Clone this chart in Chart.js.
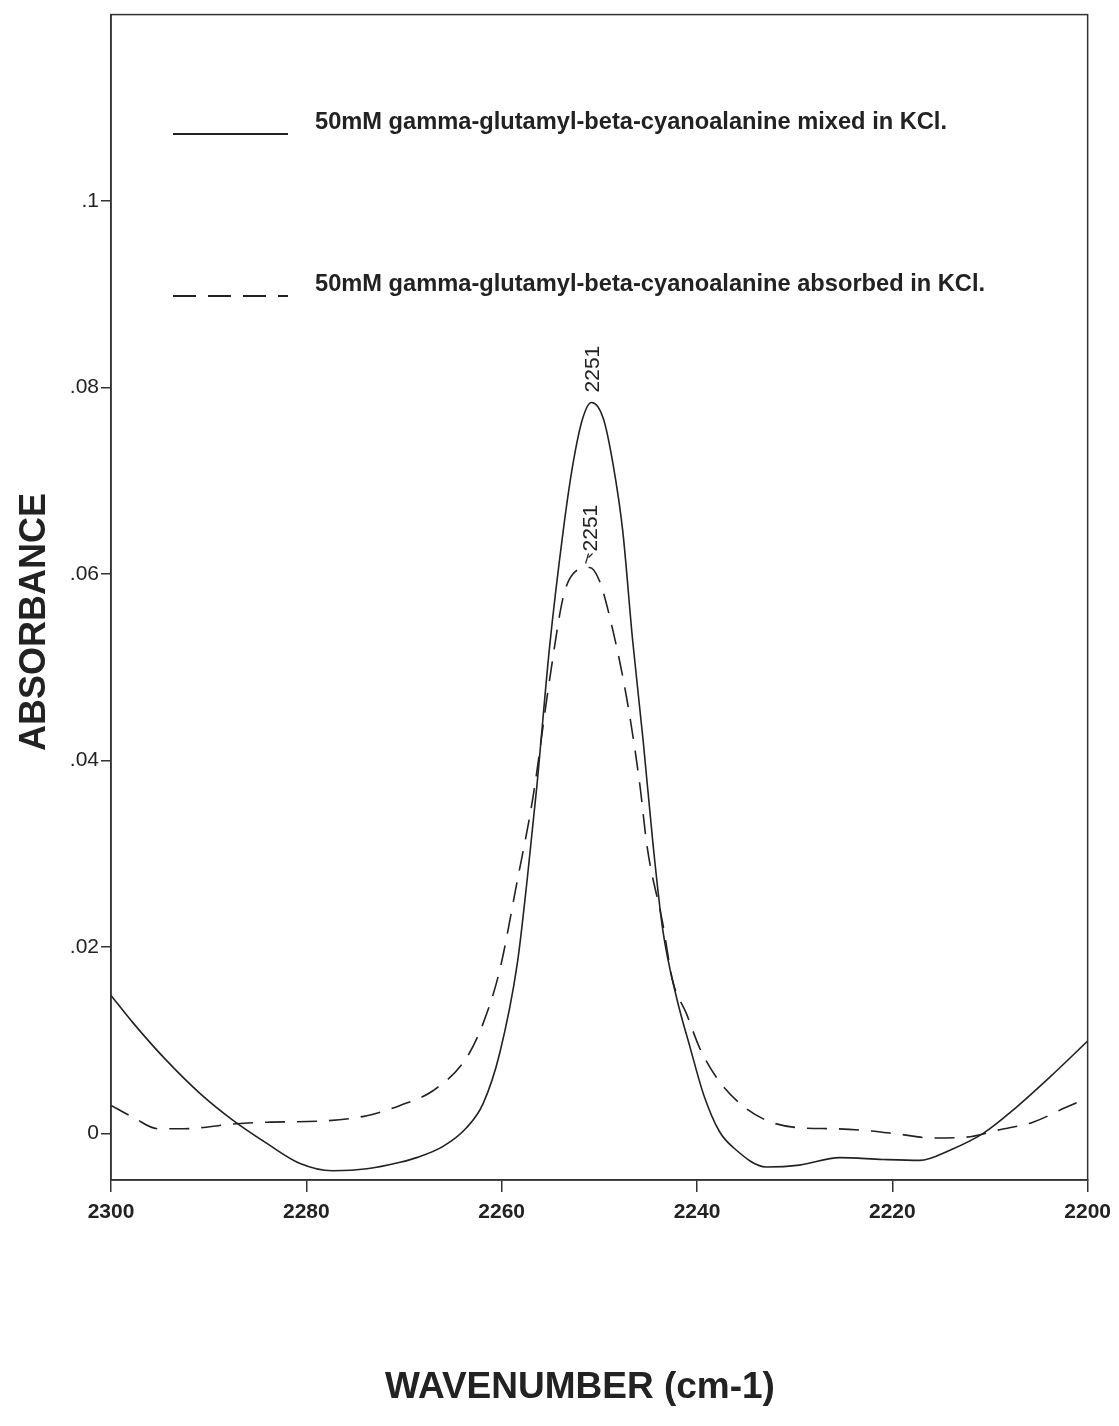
<!DOCTYPE html>
<html>
<head>
<meta charset="utf-8">
<script src="https://cdn.jsdelivr.net/npm/chart.js@4/dist/chart.umd.min.js"></script>
<style>
html,body{margin:0;padding:0;background:#fff;}
#wrap{width:1119px;height:1426px;position:relative;}
</style>
</head>
<body>
<div id="wrap"><canvas id="c" width="1119" height="1426"></canvas></div>
<script>
// ---- data ----
const mixedWavenumbers = [2300, 2297.7, 2294.3, 2290.9, 2287.5, 2284, 2280.7, 2277.3, 2273.8, 2270.4, 2268.7, 2266, 2263.6, 2261.9, 2260.2, 2258.4, 2257.4, 2256.4, 2255.1, 2253.7, 2252.7, 2251.7, 2250.8, 2249.6, 2248.6, 2247.6, 2246.6, 2245.5, 2244.5, 2243.5, 2242.1, 2240.7, 2239.3, 2237.7, 2236.3, 2232.9, 2229.5, 2225.4, 2221, 2217.2, 2214.1, 2210.7, 2207.3, 2203.9, 2200];
const mixedAbsorbance  = [0.0148, 0.0118, 0.0078, 0.0043, 0.0014, -0.0011, -0.0032, -0.0040, -0.0038, -0.0031, -0.0026, -0.0014, 0.0006, 0.0032, 0.0086, 0.0182, 0.0271, 0.0372, 0.0521, 0.0646, 0.0718, 0.0767, 0.0784, 0.0767, 0.0718, 0.0646, 0.0530, 0.0420, 0.0310, 0.0218, 0.0146, 0.0092, 0.0041, 0.0002, -0.0015, -0.0036, -0.0034, -0.0026, -0.0028, -0.0029, -0.0018, 0.0000, 0.0028, 0.0060, 0.0099];

const absorbedWavenumbers = [2300, 2297.7, 2295.2, 2292.6, 2287.5, 2284, 2278.9, 2273.8, 2270.4, 2267, 2263.6, 2261.9, 2260.2, 2258.4, 2256.8, 2255.1, 2253.7, 2252.7, 2251, 2250, 2248.6, 2247.2, 2245.9, 2245.1, 2243.5, 2242.5, 2241.1, 2239.7, 2238, 2235.6, 2232.9, 2229.5, 2226.1, 2222.6, 2219.2, 2215.9, 2212.4, 2209, 2205.6, 2202.2, 2200];
const absorbedAbsorbance  = [0.0030, 0.0017, 0.0005, 0.0005, 0.0010, 0.0012, 0.0013, 0.0019, 0.0030, 0.0046, 0.0081, 0.0118, 0.0175, 0.0271, 0.0360, 0.0486, 0.0575, 0.0600, 0.0607, 0.0593, 0.0539, 0.0467, 0.0378, 0.0307, 0.0225, 0.0164, 0.0129, 0.0091, 0.0060, 0.0032, 0.0014, 0.0006, 0.0005, 0.0003, -0.0001, -0.0005, -0.0004, 0.0004, 0.0012, 0.0028, 0.0038];

const seriesLabels = [
  '50mM gamma-glutamyl-beta-cyanoalanine mixed in KCl.',
  '50mM gamma-glutamyl-beta-cyanoalanine absorbed in KCl.'
];
const peakLabels = ['2251', '2251'];

const xTickValues = [2300, 2280, 2260, 2240, 2220, 2200];
const xTickLabels = ['2300', '2280', '2260', '2240', '2220', '2200'];
const yTickValues = [0, 0.02, 0.04, 0.06, 0.08, 0.1];
const yTickLabels = ['0', '.02', '.04', '.06', '.08', '.1'];

const xTitle = 'WAVENUMBER (cm-1)';
const yTitle = 'ABSORBANCE';

// ---- styling ----
const INK = '#222';
const AXIS = '#333';
const FONT = "'Liberation Sans', Arial, Helvetica, sans-serif";
const DASH = [20, 12];

const toPoints = (xs, ys) => xs.map((x, i) => ({x: x, y: ys[i]}));

const decor = {
  id: 'decor',
  afterDraw(chart) {
    const {ctx, chartArea: a, scales: {x, y}} = chart;
    ctx.save();
    // frame
    ctx.strokeStyle = AXIS;
    ctx.lineWidth = 1.5;
    ctx.strokeRect(a.left, a.top, a.right - a.left, a.bottom - a.top);

    // legend (inside plot)
    const rows = [134, 296];
    ctx.font = 'bold 23px ' + FONT;
    const w0 = ctx.measureText(chart.data.datasets[0].label).width;
    const sx = 632 / w0;
    chart.data.datasets.forEach((ds, i) => {
      const ry = rows[i];
      ctx.beginPath();
      ctx.setLineDash(ds.borderDash ? [23, 12] : []);
      ctx.strokeStyle = INK;
      ctx.lineWidth = 2.2;
      ctx.moveTo(173, ry);
      ctx.lineTo(288, ry);
      ctx.stroke();
      ctx.setLineDash([]);
      ctx.save();
      ctx.translate(315, ry - 5);
      ctx.scale(sx, 1);
      ctx.fillStyle = INK;
      ctx.textAlign = 'left';
      ctx.textBaseline = 'alphabetic';
      ctx.fillText(ds.label, 0, 0);
      ctx.restore();
    });

    // peak labels
    const offsets = [10, 16];
    chart.data.datasets.forEach((ds, i) => {
      let best = ds.data[0];
      ds.data.forEach(p => { if (p.y > best.y) best = p; });
      const px = x.getPixelForValue(best.x);
      const py = y.getPixelForValue(best.y);
      ctx.save();
      ctx.fillStyle = INK;
      ctx.strokeStyle = INK;
      ctx.lineWidth = 1.2;
      if (i === 1) {
        ctx.beginPath();
        ctx.moveTo(px - 4, py - 4);
        ctx.lineTo(px - 1, py - 14);
        ctx.moveTo(px - 1, py - 10);
        ctx.lineTo(px + 3, py - 14);
        ctx.stroke();
      }
      ctx.translate(px + 2, py - offsets[i]);
      ctx.rotate(-Math.PI / 2);
      ctx.font = '21px ' + FONT;
      ctx.textAlign = 'left';
      ctx.textBaseline = 'middle';
      ctx.fillText(peakLabels[i], 0, 0);
      ctx.restore();
    });

    // axis titles
    ctx.fillStyle = INK;
    ctx.font = 'bold 37px ' + FONT;
    ctx.textAlign = 'center';
    ctx.textBaseline = 'alphabetic';
    ctx.fillText(xTitle, 580, 1398);

    ctx.save();
    ctx.translate(45, 622);
    ctx.rotate(-Math.PI / 2);
    ctx.font = 'bold 36px ' + FONT;
    ctx.textAlign = 'center';
    ctx.textBaseline = 'alphabetic';
    ctx.fillText(yTitle, 0, 0);
    ctx.restore();

    ctx.restore();
  }
};

new Chart(document.getElementById('c'), {
  type: 'line',
  data: {
    datasets: [
      {
        label: seriesLabels[0],
        data: toPoints(mixedWavenumbers, mixedAbsorbance),
        borderColor: INK,
        borderWidth: 1.6,
        pointRadius: 0,
        fill: false,
        cubicInterpolationMode: 'monotone'
      },
      {
        label: seriesLabels[1],
        data: toPoints(absorbedWavenumbers, absorbedAbsorbance),
        borderColor: INK,
        borderWidth: 1.6,
        borderDash: DASH,
        pointRadius: 0,
        fill: false,
        cubicInterpolationMode: 'monotone'
      }
    ]
  },
  options: {
    responsive: false,
    animation: false,
    devicePixelRatio: 1,
    layout: {padding: {top: 12, right: 31, left: 0, bottom: 0}},
    plugins: {legend: {display: false}, tooltip: {enabled: false}},
    scales: {
      x: {
        type: 'linear',
        reverse: true,
        min: 2200,
        max: 2300,
        afterBuildTicks: s => { s.ticks = xTickValues.map(v => ({value: v})); },
        afterFit: s => { s.height = 246; },
        ticks: {
          callback: (v, i) => xTickLabels[i],
          font: {family: FONT, size: 21, weight: 'bold'},
          color: INK,
          padding: 8,
          maxRotation: 0,
          autoSkip: false
        },
        grid: {drawOnChartArea: false, drawTicks: true, tickLength: 12, color: AXIS, lineWidth: 1.5},
        border: {display: true, color: AXIS, width: 1.5}
      },
      y: {
        type: 'linear',
        min: -0.005,
        max: 0.12,
        afterBuildTicks: s => { s.ticks = yTickValues.map(v => ({value: v})); },
        afterFit: s => { s.width = 111; },
        ticks: {
          callback: (v, i) => yTickLabels[i],
          font: {family: FONT, size: 21},
          color: INK,
          padding: 2,
          autoSkip: false
        },
        grid: {drawOnChartArea: false, drawTicks: true, tickLength: 10, color: AXIS, lineWidth: 1.5},
        border: {display: true, color: AXIS, width: 1.5}
      }
    }
  },
  plugins: [decor]
});
</script>
</body>
</html>
